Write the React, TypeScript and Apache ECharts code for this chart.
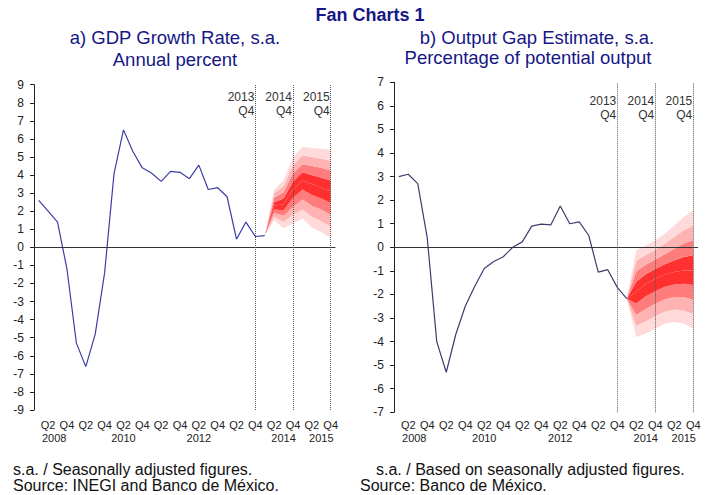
import React, { useEffect, useRef } from "react";
import * as echarts from "echarts";

const years = [2008, 2009, 2010, 2011, 2012, 2013, 2014, 2015];
const quarters = ["Q1", "Q2", "Q3", "Q4"];
const categories = years.flatMap((y) => quarters.map((q) => `${y}${q}`));

const yearTickCats = ["2008Q2", "2010Q2", "2012Q2", "2014Q3", "2015Q3"];
const yearTickLabels = ["2008", "2010", "2012", "2014", "2015"];
const guideCats = ["2013Q4", "2014Q4", "2015Q4"];
const guideLabels = ["2013\nQ4", "2014\nQ4", "2015\nQ4"];

// a) GDP growth, 2008Q1 .. 2014Q1
const gdpActual = [
  2.6, 2.0, 1.4, -1.2,
  -5.3, -6.6, -4.8, -1.4,
  4.1, 6.5, 5.3, 4.4,
  4.1, 3.65, 4.2, 4.15,
  3.8, 4.55, 3.2, 3.3,
  2.8, 0.45, 1.4, 0.6,
  0.65,
];
// fan, 2014Q1 .. 2015Q4
const gdpLo4 = [0.65, 1.5, 1.05, 1.3, 1.6, 1.1, 0.85, 0.5];
const gdpLo3 = [0.65, 1.7, 1.4, 1.8, 2.1, 1.7, 1.45, 1.15];
const gdpLo2 = [0.65, 1.9, 1.75, 2.25, 2.65, 2.3, 2.1, 1.8];
const gdpLo1 = [0.65, 2.1, 2.05, 2.75, 3.2, 2.9, 2.7, 2.45];
const gdpMid = [0.65, 2.3, 2.4, 3.2, 3.7, 3.5, 3.3, 3.1];
const gdpUp1 = [0.65, 2.5, 2.7, 3.65, 4.15, 4.0, 3.85, 3.7];
const gdpUp2 = [0.65, 2.75, 3.05, 4.1, 4.6, 4.5, 4.4, 4.25];
const gdpUp3 = [0.65, 3.0, 3.4, 4.55, 5.1, 5.0, 4.9, 4.8];
const gdpUp4 = [0.65, 3.2, 3.7, 5.0, 5.55, 5.5, 5.45, 5.4];

// b) Output gap, 2008Q1 .. 2014Q1
const gapActual = [
  3.0, 3.1, 2.7, 0.4,
  -4.0, -5.3, -3.7, -2.5,
  -1.65, -0.9, -0.6, -0.4,
  0.0, 0.23, 0.9, 0.98,
  0.95, 1.75, 1.0, 1.08,
  0.5, -1.05, -0.95, -1.7,
  -2.18,
];
const gapLo4 = [-2.18, -3.81, -3.67, -3.45, -3.24, -3.17, -3.24, -3.45];
const gapLo3 = [-2.18, -3.33, -3.14, -2.92, -2.72, -2.64, -2.68, -2.83];
const gapLo2 = [-2.18, -2.86, -2.61, -2.39, -2.2, -2.11, -2.11, -2.22];
const gapLo1 = [-2.18, -2.38, -2.08, -1.86, -1.67, -1.58, -1.55, -1.6];
const gapMid = [-2.18, -1.9, -1.55, -1.33, -1.15, -1.05, -0.98, -0.98];
const gapUp1 = [-2.18, -1.46, -1.14, -0.92, -0.72, -0.56, -0.41, -0.34];
const gapUp2 = [-2.18, -1.02, -0.74, -0.52, -0.29, -0.06, 0.16, 0.3];
const gapUp3 = [-2.18, -0.57, -0.33, -0.11, 0.15, 0.44, 0.72, 0.93];
const gapUp4 = [-2.18, -0.13, 0.08, 0.3, 0.58, 0.93, 1.29, 1.57];

const fanStartCat = "2014Q1";

const FONT = "'Liberation Sans', Arial, sans-serif";
const TITLE_COLOR = "#161686";
const bandColors = ["#ffdada", "#ffb2b2", "#ff7c7c", "#ff3030", "#ff3030", "#ff7c7c", "#ffb2b2", "#ffdada"];

function fanSeries(stackId: string, xIdx: number, yIdx: number, bounds: number[][]) {
  const offset = categories.indexOf(fanStartCat);
  const pad = (arr: number[]) => [...Array(offset).fill(null), ...arr];
  const list: any[] = [
    {
      type: "line",
      xAxisIndex: xIdx,
      yAxisIndex: yIdx,
      stack: stackId,
      stackStrategy: "all",
      data: pad(bounds[0]),
      symbol: "none",
      lineStyle: { width: 0, opacity: 0 },
      silent: true,
      z: 1,
    },
  ];
  for (let k = 0; k < bounds.length - 1; k++) {
    list.push({
      type: "line",
      xAxisIndex: xIdx,
      yAxisIndex: yIdx,
      stack: stackId,
      stackStrategy: "all",
      data: pad(bounds[k + 1].map((v, i) => +(v - bounds[k][i]).toFixed(4))),
      symbol: "none",
      lineStyle: { width: 0, opacity: 0 },
      areaStyle: { color: bandColors[k], opacity: 1 },
      silent: true,
      z: 1,
    });
  }
  return list;
}

function actualSeries(xIdx: number, yIdx: number, data: number[], color: string) {
  return {
    type: "line",
    xAxisIndex: xIdx,
    yAxisIndex: yIdx,
    data,
    symbol: "none",
    lineStyle: { color, width: 1.2 },
    silent: true,
    z: 3,
    markLine: {
      silent: true,
      symbol: ["none", "none"],
      label: { show: false },
      data: [
        { yAxis: 0, lineStyle: { color: "#333", width: 1, type: "solid" } },
        ...guideCats.map((c) => ({ xAxis: c, lineStyle: { color: "#555", width: 1, type: "dotted" } })),
      ],
    },
  };
}

function qAxis(gridIndex: number, margin: number, fontSize: number) {
  return {
    type: "category",
    gridIndex,
    data: categories,
    boundaryGap: true,
    position: "bottom",
    axisLine: { show: false },
    axisTick: { show: false },
    axisLabel: {
      interval: (i: number) => i % 2 === 1,
      formatter: (v: string) => v.slice(4),
      fontSize,
      fontFamily: FONT,
      color: "#222",
      margin,
    },
  };
}

function yearAxis(gridIndex: number, margin: number, fontSize: number) {
  return {
    type: "category",
    gridIndex,
    data: categories,
    boundaryGap: true,
    position: "bottom",
    offset: 13,
    axisLine: { show: false },
    axisTick: { show: false },
    axisLabel: {
      interval: (_i: number, v: string) => yearTickCats.includes(v),
      formatter: (v: string) => {
        const lab = yearTickLabels[yearTickCats.indexOf(v)] ?? "";
        return lab === "2008" ? `{p|${lab}}` : lab;
      },
      rich: { p: { padding: [0, 0, 0, 12], fontSize, fontFamily: FONT, color: "#222" } },
      fontSize,
      fontFamily: FONT,
      color: "#222",
      margin,
    },
  };
}

function valAxis(gridIndex: number, min: number, max: number) {
  return {
    type: "value",
    gridIndex,
    min,
    max,
    interval: 1,
    axisLine: { show: true, onZero: false, lineStyle: { color: "#222", width: 1 } },
    axisTick: { show: true, length: 4, lineStyle: { color: "#222" } },
    splitLine: { show: false },
    axisLabel: { fontSize: 12, fontFamily: FONT, color: "#222", margin: 10 },
  };
}

export default function App() {
  const ref = useRef<HTMLDivElement>(null);

  useEffect(() => {
    document.body.style.margin = "0";
    if (!ref.current) return;
    const chart = echarts.init(ref.current, null, { renderer: "svg" });
    const option: any = {
      animation: false,
      backgroundColor: "#fff",
      grid: [
        { left: 34, top: 84.7, width: 301.4, height: 325.3 },
        { left: 394, top: 82.3, width: 304, height: 330 },
      ],
      xAxis: [qAxis(0, 9, 11), yearAxis(0, 9, 11), qAxis(1, 7, 11), yearAxis(1, 7, 11)],
      yAxis: [valAxis(0, -9, 9), valAxis(1, -7, 7)],
      series: [
        ...fanSeries("gdpFan", 0, 0, [gdpLo4, gdpLo3, gdpLo2, gdpLo1, gdpMid, gdpUp1, gdpUp2, gdpUp3, gdpUp4]),
        actualSeries(0, 0, gdpActual, "#3c3ca6"),
        ...fanSeries("gapFan", 2, 1, [gapLo4, gapLo3, gapLo2, gapLo1, gapMid, gapUp1, gapUp2, gapUp3, gapUp4]),
        actualSeries(2, 1, gapActual, "#3d3d70"),
      ],
    };
    chart.setOption(option);

    const guideText = (xIdx: number, yIdx: number, topVal: number, dy: number) =>
      guideCats.map((c, i) => {
        const x = chart.convertToPixel({ xAxisIndex: xIdx }, c) as number;
        const y = chart.convertToPixel({ yAxisIndex: yIdx }, topVal) as number;
        return {
          type: "text",
          x: x - 1,
          y: y + dy,
          silent: true,
          style: {
            text: guideLabels[i],
            fontSize: 12,
            fontFamily: FONT,
            fill: "#333",
            align: "right",
            verticalAlign: "top",
            lineHeight: 14,
          },
        };
      });

    const txt = (text: string, x: number, y: number, size: number, color: string, align = "center", weight = "normal") => ({
      type: "text",
      x,
      y,
      silent: true,
      style: { text, fontSize: size, fontFamily: FONT, fill: color, align, verticalAlign: "middle", fontWeight: weight },
    });

    chart.setOption({
      graphic: [
        txt("Fan Charts 1", 370, 15, 18, TITLE_COLOR, "center", "bold"),
        txt("a) GDP Growth Rate, s.a.", 175, 37, 18.5, TITLE_COLOR),
        txt("Annual percent", 175, 59, 18.5, TITLE_COLOR),
        txt("b) Output Gap Estimate, s.a.", 537, 37, 18.5, TITLE_COLOR),
        txt("Percentage of potential output", 528, 57, 18.5, TITLE_COLOR),
        txt("s.a. / Seasonally adjusted figures.", 13, 469, 16, "#111", "left"),
        txt("Source: INEGI and Banco de México.", 13, 485, 16, "#111", "left"),
        txt("s.a. / Based on seasonally adjusted figures.", 376, 469, 16, "#111", "left"),
        txt("Source: Banco de México.", 360, 485, 16, "#111", "left"),
        ...guideText(0, 0, 9, 5),
        ...guideText(2, 1, 7, 12),
      ],
    });

    return () => chart.dispose();
  }, []);

  return <div ref={ref} style={{ width: 718, height: 495 }} />;
}
